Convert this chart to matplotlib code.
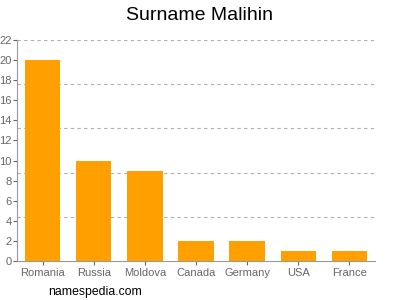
import matplotlib
matplotlib.use("Agg")
import matplotlib.pyplot as plt
import numpy as np

plt.rcParams["font.family"] = ["Liberation Sans", "DejaVu Sans"]

countries = ["Romania", "Russia", "Moldova", "Canada", "Germany", "USA", "France"]
counts = [20, 10, 9, 2, 2, 1, 1]
yticks = list(range(0, 23, 2))
grid_levels = [4.4, 8.8, 13.2, 17.6, 22]

fig = plt.figure(figsize=(4, 3), dpi=100)
ax = fig.add_axes([0.0425, 0.13, 0.895, 0.7367])

x = np.arange(len(countries))
ax.bar(x, counts, width=0.69, color="#FFA000", zorder=3)

for g in grid_levels:
    ax.axhline(g, color="#b0b0b0", lw=0.8, ls=(0, (3, 3)), zorder=1)

ax.set_xlim(-0.5, len(countries) - 0.5)
ax.set_ylim(0, 22)
ax.set_yticks(yticks)
ax.set_xticks(x)
ax.set_xticklabels(countries)
ax.tick_params(axis="both", labelsize=8, colors="#666666", length=3, width=0.8, pad=2)
ax.tick_params(axis="y", pad=1)
for s in ["top", "right"]:
    ax.spines[s].set_visible(False)
for s in ["left", "bottom"]:
    ax.spines[s].set_color("#999999")

fig.text(0.5, 0.95, "Surname Malihin", ha="center", va="center", fontsize=14)
fig.text(0.12, 0.027, "namespedia.com", ha="left", va="center", fontsize=8.8)

fig.savefig("out.png", dpi=100)
